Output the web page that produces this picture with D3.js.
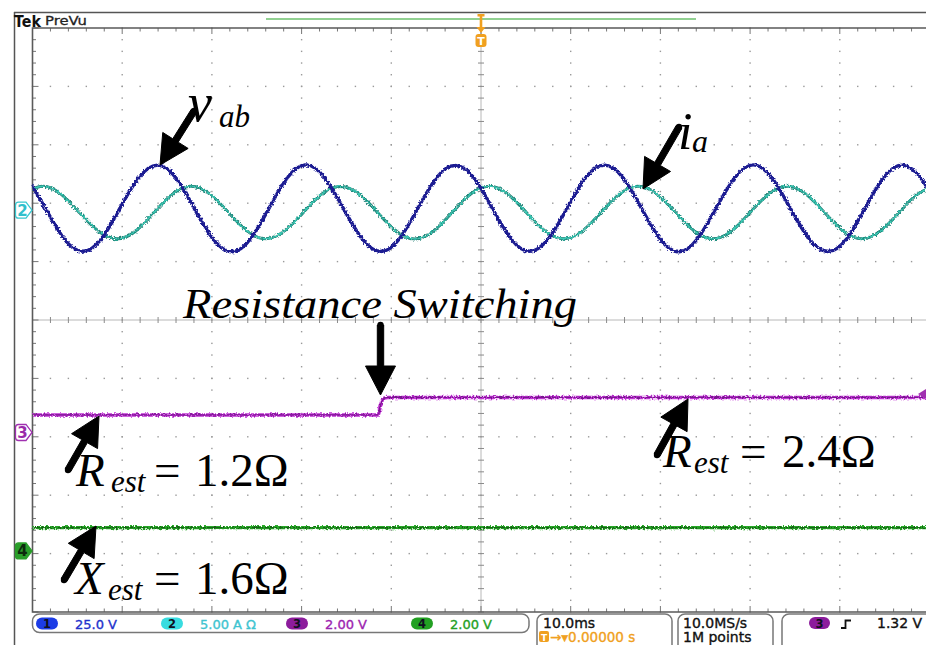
<!DOCTYPE html>
<html>
<head>
<meta charset="utf-8">
<script src="https://cdn.jsdelivr.net/npm/d3@7/dist/d3.min.js"></script>
<style>
  html, body { margin: 0; padding: 0; background: #fff; }
  svg { display: block; }
  .math { font-family: "Liberation Serif", "Times New Roman", "DejaVu Serif", serif; }
  .tek { font-family: "DejaVu Sans", Verdana, sans-serif; }
</style>
</head>
<body>
<svg id="scope" width="926" height="645"></svg>
<script>
// ---- acquisition record (time in ms, trigger at 0) ----
// Channel 1: line voltage v_ab (V)
const ch1Time = [-50.63,-48.56,-46.48,-44.41,-42.33,-40.25,-38.18,-36.10,-34.02,-31.95,-29.87,-27.79,-25.72,-23.64,-21.57,-19.49,-17.41,-15.34,-13.26,-11.18,-9.11,-7.03,-4.96,-2.88,-0.80,1.27,3.35,5.43,7.50,9.58,11.66,13.73,15.81,17.88,19.96,22.04,24.11,26.19,28.27,30.34,32.42,34.49,36.57,38.65,40.72,42.80,44.88,46.95,49.03,51.10];
const ch1Volts = [13.9,0.8,-12.2,-17.6,-12.3,0.9,13.8,19.3,13.9,0.7,-12.3,-17.8,-12.4,0.8,14.0,19.4,13.8,0.8,-12.2,-17.7,-12.3,0.9,13.9,19.2,13.9,0.8,-12.3,-17.6,-12.2,0.7,13.9,19.3,14.0,0.9,-12.3,-17.8,-12.3,0.8,13.8,19.4,13.9,0.8,-12.2,-17.7,-12.4,0.8,13.9,19.3,13.8,0.8];
// Channel 2: phase current i_a (A)
const ch2Time = [-50.98,-48.90,-46.82,-44.75,-42.67,-40.59,-38.52,-36.44,-34.37,-32.29,-30.21,-28.14,-26.06,-23.98,-21.91,-19.83,-17.76,-15.68,-13.60,-11.53,-9.45,-7.37,-5.30,-3.22,-1.15,0.93,3.01,5.08,7.16,9.24,11.31,13.39,15.47,17.54,19.62,21.69,23.77,25.85,27.92,30.00,32.08,34.15,36.23,38.31,40.38,42.46,44.53,46.61,48.69,50.76];
const ch2Amps = [1.39,2.05,1.37,-0.22,-1.78,-2.45,-1.80,-0.18,1.40,2.06,1.38,-0.20,-1.79,-2.44,-1.77,-0.21,1.38,2.04,1.39,-0.19,-1.80,-2.46,-1.78,-0.20,1.39,2.05,1.37,-0.21,-1.79,-2.45,-1.79,-0.19,1.40,2.05,1.38,-0.20,-1.78,-2.44,-1.80,-0.20,1.39,2.06,1.38,-0.21,-1.79,-2.45,-1.78,-0.20,1.39,2.05];
// Channel 3: estimated resistance R_est (ohm), step at the load switch
const ch3Time = [-50,-11.45,-11.25,-11.05,-10.8,-10.4,50];
const ch3Ohms = [1.2,1.2,1.75,2.15,2.35,2.4,2.4];
// Channel 4: estimated reactance X_est (ohm)
const ch4Time = [-50,50];
const ch4Ohms = [1.6,1.6];

// ---- channel settings ----
const chNames   = ["1", "2", "3", "4"];
const chScale   = ["25.0 V", "5.00 A", "2.00 V", "2.00 V"];
const chPerDiv  = [25, 5, 2, 2];
const chOffset  = [1.88, 1.88, -1.926, -3.955];   // ground marker, divisions from centre
const estimatorVoltsPerOhm = 0.5;
const timebase = "10.0ms", triggerPos = "0.00000 s";
const sampleRate = "10.0MS/s", recordLen = "1M points";
const triggerLevel = 1.32, triggerLabel = "1.32 V";

// ---- layout ----
const svg = d3.select("#scope");
const gx0 = 32.5, gx1 = 929.5, gy0 = 28, gy1 = 612;
const x = d3.scaleLinear().domain([-50, 50]).range([gx0, gx1]);
const yDiv = d3.scaleLinear().domain([-5, 5]).range([gy1, gy0]);
const divW = (gx1 - gx0) / 10, divH = (gy1 - gy0) / 10;

svg.append("rect").attr("width", 926).attr("height", 645).attr("fill", "#fff");

const defs = svg.append("defs");
const f = defs.append("filter").attr("id", "rough")
  .attr("filterUnits", "userSpaceOnUse").attr("x", 0).attr("y", 0).attr("width", 926).attr("height", 645);
f.append("feTurbulence").attr("type", "fractalNoise").attr("baseFrequency", "0.55")
  .attr("numOctaves", 3).attr("seed", 7).attr("result", "n");
f.append("feDisplacementMap").attr("in", "SourceGraphic").attr("in2", "n")
  .attr("scale", 4).attr("xChannelSelector", "R").attr("yChannelSelector", "G");

// ---- outer frame and header ----
svg.append("line").attr("x1", 14).attr("x2", 926).attr("y1", 12.5).attr("y2", 12.5)
  .attr("stroke", "#555").attr("stroke-width", 1.5);
svg.append("line").attr("x1", 14.5).attr("x2", 14.5).attr("y1", 12).attr("y2", 645)
  .attr("stroke", "#555").attr("stroke-width", 1.5);
svg.append("text").attr("class", "tek").attr("x", 14).attr("y", 26.5).text("Tek")
  .attr("font-weight", "bold").attr("font-size", 15)
  .attr("textLength", 27).attr("lengthAdjust", "spacingAndGlyphs").attr("fill", "#111");
svg.append("text").attr("class", "tek").attr("x", 45).attr("y", 25).text("PreVu")
  .attr("font-size", 13).attr("stroke", "#222").attr("stroke-width", 0.3)
  .attr("textLength", 42).attr("lengthAdjust", "spacingAndGlyphs").attr("fill", "#222");
svg.append("line").attr("x1", 266).attr("x2", 696).attr("y1", 19).attr("y2", 19)
  .attr("stroke", "#6cc06c").attr("stroke-width", 1.6);

// ---- graticule ----
const grid = svg.append("g");
const minorX = d3.range(0, 51).map(i => gx0 + i * divW / 5);
const minorY = d3.range(0, 51).map(i => gy0 + i * divH / 5);
[1,2,3,4,6,7,8,9].forEach(k => {
  const xv = gx0 + k * divW;
  grid.selectAll(null).data(minorY).join("rect")
    .attr("x", xv - 0.7).attr("y", d => d - 0.7).attr("width", 1.4).attr("height", 1.4).attr("fill", "#9a9a9a");
  const yv = gy0 + k * divH;
  grid.selectAll(null).data(minorX).join("rect")
    .attr("x", d => d - 0.7).attr("y", yv - 0.7).attr("width", 1.4).attr("height", 1.4).attr("fill", "#9a9a9a");
});
// centre cross with minor ticks
const cx = gx0 + 5 * divW, cy = gy0 + 5 * divH;
grid.append("line").attr("x1", cx).attr("x2", cx).attr("y1", gy0).attr("y2", gy1)
  .attr("stroke", "#b8b8b8").attr("stroke-width", 1);
grid.append("line").attr("x1", gx0).attr("x2", 926).attr("y1", cy).attr("y2", cy)
  .attr("stroke", "#b8b8b8").attr("stroke-width", 1);
grid.selectAll(null).data(minorY).join("line")
  .attr("x1", cx - 3).attr("x2", cx + 3).attr("y1", d => d).attr("y2", d => d)
  .attr("stroke", "#8a8a8a").attr("stroke-width", 1);
grid.selectAll(null).data(minorX).join("line")
  .attr("y1", cy - 3).attr("y2", cy + 3).attr("x1", d => d).attr("x2", d => d)
  .attr("stroke", "#8a8a8a").attr("stroke-width", 1);
// border ticks
grid.selectAll(null).data(minorX).join("line")
  .attr("x1", d => d).attr("x2", d => d).attr("y1", gy0)
  .attr("y2", (d, i) => gy0 + (i % 5 === 0 ? 6 : 3.5))
  .attr("stroke", "#777").attr("stroke-width", 1);
grid.selectAll(null).data(minorX).join("line")
  .attr("x1", d => d).attr("x2", d => d).attr("y1", gy1)
  .attr("y2", (d, i) => gy1 - (i % 5 === 0 ? 6 : 3.5))
  .attr("stroke", "#777").attr("stroke-width", 1);
grid.selectAll(null).data(minorY).join("line")
  .attr("y1", d => d).attr("y2", d => d).attr("x1", gx0)
  .attr("x2", (d, i) => gx0 + (i % 5 === 0 ? 6 : 3.5))
  .attr("stroke", "#777").attr("stroke-width", 1);
// frame
grid.append("path").attr("d", `M926,${gy0}H${gx0}V${gy1}H926`)
  .attr("fill", "none").attr("stroke", "#5a5a5a").attr("stroke-width", 1.6);

// ---- traces ----
const yFor = (ch, volts) => yDiv(chOffset[ch] + volts / chPerDiv[ch]);
const line = d3.line().curve(d3.curveNatural);
const traces = svg.append("g").attr("filter", "url(#rough)");

const ch1Pts = ch1Time.map((t, i) => [x(t), yFor(0, ch1Volts[i])]);
const ch2Pts = ch2Time.map((t, i) => [x(t), yFor(1, ch2Amps[i])]);
const ch3Pts = ch3Time.map((t, i) => [x(t), yFor(2, ch3Ohms[i] * estimatorVoltsPerOhm)]);
const ch4Pts = ch4Time.map((t, i) => [x(t), yFor(3, ch4Ohms[i] * estimatorVoltsPerOhm)]);

const clip = defs.append("clipPath").attr("id", "gclip");
clip.append("rect").attr("x", gx0).attr("y", gy0).attr("width", 926 - gx0).attr("height", gy1 - gy0);
const tg = traces.append("g").attr("clip-path", "url(#gclip)");

tg.append("path").attr("d", line(ch2Pts)).attr("fill", "none")
  .attr("stroke", "#1f7f74").attr("stroke-width", 3);
tg.append("path").attr("d", line(ch2Pts)).attr("fill", "none")
  .attr("stroke", "#3cc8b4").attr("stroke-width", 1.4);
tg.append("path").attr("d", line(ch1Pts)).attr("fill", "none")
  .attr("stroke", "#1c1c92").attr("stroke-width", 3.4);
const stepLine = d3.line().curve(d3.curveMonotoneX);
tg.append("path").attr("d", stepLine(ch3Pts)).attr("fill", "none")
  .attr("stroke", "#c030d4").attr("stroke-width", 3.6);
tg.append("path").attr("d", stepLine(ch3Pts)).attr("fill", "none")
  .attr("stroke", "#7a1690").attr("stroke-width", 1.3);
tg.append("path").attr("d", stepLine(ch4Pts)).attr("fill", "none")
  .attr("stroke", "#28a828").attr("stroke-width", 3.4);
tg.append("path").attr("d", stepLine(ch4Pts)).attr("fill", "none")
  .attr("stroke", "#126212").attr("stroke-width", 1.2);

// ---- channel ground markers ----
function marker(ch, fill, stroke, textCol) {
  const yc = yDiv(chOffset[ch]);
  const h = 16, x0 = 15.5, x1 = 32;
  svg.append("path")
    .attr("d", `M${x0 + 3},${yc - h / 2}H${x1 - 6}L${x1},${yc}L${x1 - 6},${yc + h / 2}H${x0 + 3}Q${x0},${yc + h / 2} ${x0},${yc + h / 2 - 3}V${yc - h / 2 + 3}Q${x0},${yc - h / 2} ${x0 + 3},${yc - h / 2}Z`)
    .attr("fill", fill).attr("stroke", stroke).attr("stroke-width", 1.3);
  svg.append("text").attr("class", "tek").attr("x", 22.5).attr("y", yc + 5.5).text(chNames[ch])
    .attr("text-anchor", "middle").attr("font-size", 15).attr("font-weight", "bold")
    .attr("fill", textCol);
}
marker(1, "#fff", "#38c8d0", "#30c0cc");
marker(2, "#fff", "#a030b0", "#9a2aaa");
marker(3, "#2a9e2a", "#2a9e2a", "#0d2a0d");

// trigger level marker (channel 3) at the right edge
const tly = yFor(2, triggerLevel);
svg.append("path").attr("d", `M918,${tly}L926,${tly - 5}V${tly + 5}Z`).attr("fill", "#a030b0");

// trigger position marker at the top
const tx = x(0);
svg.append("path").attr("d", `M${tx - 3.5},14H${tx + 3.5}V16.5H${tx + 1.3}V27H${tx + 4.5}L${tx},33L${tx - 4.5},27H${tx - 1.3}V16.5H${tx - 3.5}Z`)
  .attr("fill", "#f0a020");
svg.append("rect").attr("x", tx - 5.5).attr("y", 34).attr("width", 11).attr("height", 13).attr("rx", 3)
  .attr("fill", "#f0a020");
svg.append("text").attr("class", "tek").attr("x", tx).attr("y", 45).text("T").attr("text-anchor", "middle")
  .attr("font-weight", "bold").attr("font-size", 11).attr("fill", "#fff");

// ---- annotations ----
const ann = svg.append("g").attr("class", "math").attr("fill", "#000");
function arrow(x0, y0, x1, y1) {
  const dx = x1 - x0, dy = y1 - y0, L = Math.hypot(dx, dy);
  const ux = dx / L, uy = dy / L, px = -uy, py = ux;
  const hl = 29, hw = 15, sw = 3.2;
  const bx = x1 - ux * hl, by = y1 - uy * hl;
  const pts = [
    [x0 + px * sw, y0 + py * sw], [bx + px * sw, by + py * sw], [bx + px * hw, by + py * hw],
    [x1, y1], [bx - px * hw, by - py * hw], [bx - px * sw, by - py * sw], [x0 - px * sw, y0 - py * sw]
  ];
  ann.append("path").attr("d", "M" + pts.map(p => p.join(",")).join("L") + "Z")
    .attr("fill", "#000").attr("stroke", "#000").attr("stroke-width", 1).attr("stroke-linejoin", "round");
  ann.append("circle").attr("cx", x0).attr("cy", y0).attr("r", sw).attr("fill", "#000");
}
arrow(194, 111, 160, 165);
arrow(679, 127, 643, 189);
arrow(380.5, 325, 380.5, 395);
arrow(68, 470, 99, 416);
arrow(657, 455, 688, 399);
arrow(64, 580, 96, 526);

function label(main, sub, rest, xs, base) {
  const t = ann.append("text").attr("y", base);
  t.append("tspan").attr("x", xs[0]).attr("font-style", "italic").attr("font-size", 47).text(main);
  t.append("tspan").attr("x", xs[1]).attr("dy", 6).attr("font-style", "italic").attr("font-size", 31).text(sub);
  t.append("tspan").attr("x", xs[2]).attr("dy", -6).attr("font-size", 47).text("=");
  t.append("tspan").attr("x", xs[3]).attr("font-size", 47).text(rest);
}
label("R", "est", "1.2Ω", [76, 111, 154, 195], 486);
label("X", "est", "1.6Ω", [75, 108, 154, 195], 594);
label("R", "est", "2.4Ω", [663, 694, 740, 782], 467);

const vt = ann.append("text").attr("y", 121);
vt.append("tspan").attr("x", 188).attr("font-style", "italic").attr("font-size", 54).text("v");
vt.append("tspan").attr("x", 219).attr("dy", 6).attr("font-style", "italic").attr("font-size", 31).text("ab");
const it = ann.append("text").attr("y", 149);
it.append("tspan").attr("x", 678).attr("font-style", "italic").attr("font-size", 52).text("i");
it.append("tspan").attr("x", 692).attr("dy", 3).attr("font-style", "italic").attr("font-size", 32).text("a");

ann.append("text").attr("x", 183).attr("y", 318).attr("font-style", "italic").attr("font-size", 43)
  .attr("textLength", 394).attr("lengthAdjust", "spacingAndGlyphs").text("Resistance Switching");

// ---- status bar ----
const sb = svg.append("g").attr("class", "tek").attr("font-size", 13);
const box = (x0, x1, y1) => sb.append("rect").attr("x", x0).attr("y", 614).attr("width", x1 - x0)
  .attr("height", y1 - 614).attr("rx", 7).attr("fill", "#fff").attr("stroke", "#777").attr("stroke-width", 1.5);
box(32.5, 529, 632.5);
box(537, 672, 660);
box(678, 773, 660);
box(782, 960, 660);

const ovalFill = ["#1c3ce6", "#38dce0", "#8c1c9c", "#22a022"];
const textFill = ["#2232cc", "#3ec4d0", "#9c24b0", "#23a023"];
const chX = [47, 172, 297, 422];
const sbText = (sel, col) => sel.attr("fill", col).attr("stroke", col).attr("stroke-width", 0.35);
chNames.forEach((n, i) => {
  sb.append("rect").attr("x", chX[i] - 11).attr("y", 617.5).attr("width", 22).attr("height", 12).attr("rx", 6)
    .attr("fill", ovalFill[i]);
  sb.append("text").attr("x", chX[i]).attr("y", 628).attr("text-anchor", "middle").attr("font-size", 11.5)
    .attr("font-weight", "bold").attr("fill", "#101020").text(n);
  sbText(sb.append("text").attr("x", chX[i] + 28).attr("y", 628.5), textFill[i])
    .text(i === 1 ? chScale[i] + "  Ω" : chScale[i]);
});

sbText(sb.append("text").attr("x", 543).attr("y", 627.5).attr("font-size", 14), "#111").text(timebase);
sb.append("rect").attr("x", 539).attr("y", 631).attr("width", 10).attr("height", 11).attr("rx", 2).attr("fill", "#f0a020");
sb.append("text").attr("x", 544).attr("y", 640.5).attr("text-anchor", "middle").attr("font-size", 9)
  .attr("font-weight", "bold").attr("fill", "#fff").text("T");
sbText(sb.append("text").attr("x", 550).attr("y", 642).attr("font-size", 13.5), "#f0a020")
  .text("→▾" + triggerPos);

sbText(sb.append("text").attr("x", 683).attr("y", 627.5).attr("font-size", 14), "#111").text(sampleRate);
sbText(sb.append("text").attr("x", 683).attr("y", 642).attr("font-size", 14), "#111").text(recordLen);

sb.append("rect").attr("x", 809).attr("y", 617).attr("width", 21).attr("height", 12).attr("rx", 6).attr("fill", "#8c1c9c");
sb.append("text").attr("x", 819.5).attr("y", 627.5).attr("text-anchor", "middle").attr("font-size", 11.5)
  .attr("font-weight", "bold").attr("fill", "#101020").text("3");
sb.append("path").attr("d", "M841,628H845.5V620.5H851").attr("fill", "none").attr("stroke", "#111").attr("stroke-width", 1.8);
sbText(sb.append("text").attr("x", 877).attr("y", 628).attr("font-size", 14), "#111").text(triggerLabel);
</script>
</body>
</html>
